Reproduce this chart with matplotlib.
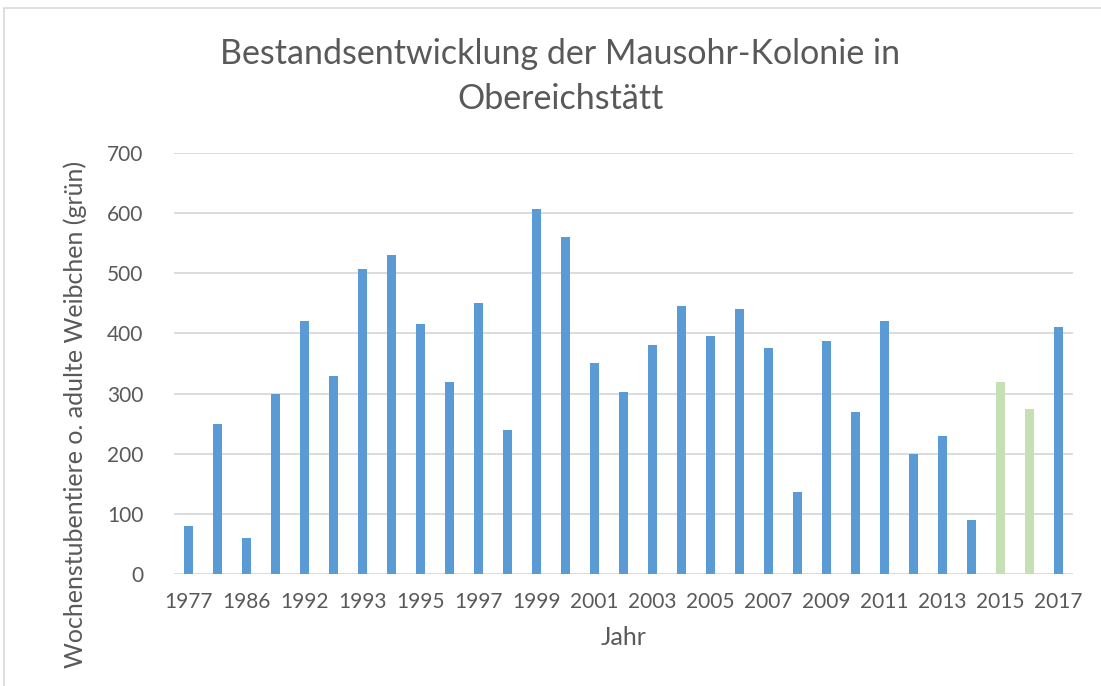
import matplotlib.pyplot as plt
from matplotlib.patches import Rectangle

# Data
years = ['1977', '1983', '1986', '1990', '1992', '1992b', '1993', '1994', '1995', '1996',
         '1997', '1998', '1999', '2000', '2001', '2002', '2003', '2004', '2005', '2006',
         '2007', '2008', '2009', '2010', '2011', '2012', '2013', '2014', '2015', '2016', '2017']
counts = [80, 250, 60, 300, 420, 330, 507, 530, 415, 320,
          450, 240, 607, 560, 350, 303, 380, 445, 395, 440,
          375, 137, 387, 270, 420, 200, 230, 90, 320, 275, 410]
juvenile_years = ['2015', '2016']  # drawn in green

BLUE = '#5b9bd5'
GREEN = '#c5e0b4'
TEXT = '#595959'

plt.rcParams['font.family'] = ['Lato', 'DejaVu Sans']

fig = plt.figure(figsize=(11.01, 6.86), dpi=100)
ax = fig.add_axes([0.158, 0.1633, 0.8166, 0.6137])

x = range(len(years))
colors = [GREEN if y in juvenile_years else BLUE for y in years]
ax.bar(x, counts, width=0.33, color=colors, zorder=3)

ax.set_xlim(-0.5, len(years) - 0.5)
ax.set_ylim(0, 700)
ax.set_yticks(range(0, 701, 100))
ax.set_xticks(list(x)[::2])
ax.set_xticklabels([years[i] for i in range(0, len(years), 2)])
ax.tick_params(axis='both', length=0, labelsize=15, colors=TEXT)
ax.tick_params(axis='x', pad=13)
ax.tick_params(axis='y', pad=22)
ax.grid(axis='y', color='#d9d9d9', linewidth=1.3, zorder=0)
for s in ax.spines.values():
    s.set_visible(False)

ax.set_xlabel('Jahr', fontsize=18, color=TEXT, labelpad=10)
ax.set_ylabel('Wochenstubentiere o. adulte Weibchen (grün)', fontsize=18, color=TEXT)
ax.yaxis.set_label_coords(-0.097, 0.38)
fig.text(0.509, 0.889, 'Bestandsentwicklung der Mausohr-Kolonie in\nObereichstätt',
         ha='center', va='center', fontsize=24.5, color=TEXT, linespacing=1.5)

# light outer chart frame
fig.patches.append(Rectangle((4 / 1101, -0.1), 1.2, 1 - 8 / 686 + 0.1, transform=fig.transFigure,
                             fill=False, edgecolor='#d9d9d9', linewidth=1.2))

fig.savefig('out.png', dpi=100)
